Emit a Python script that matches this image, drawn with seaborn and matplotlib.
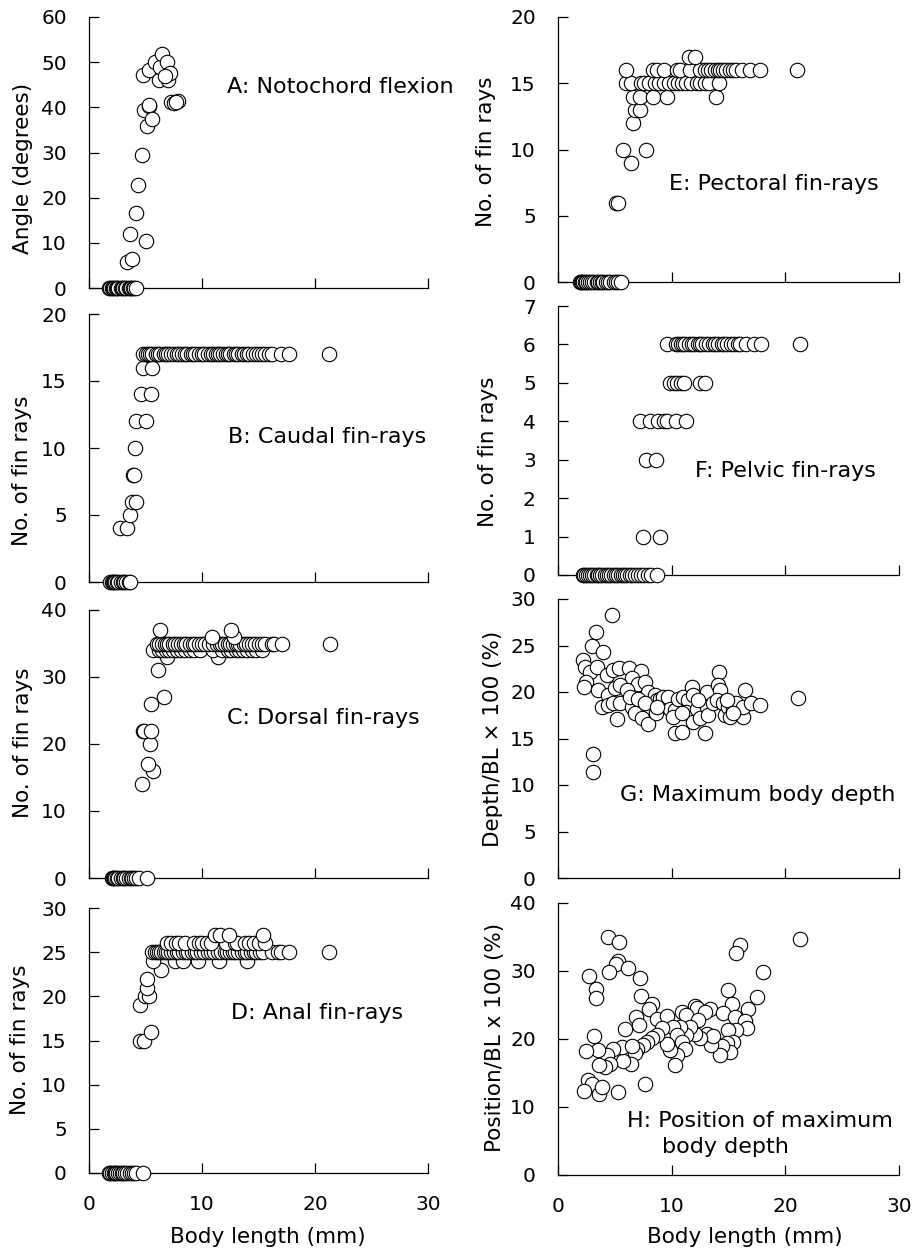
import numpy as np
import pandas as pd
import matplotlib
matplotlib.use("Agg")
import matplotlib.pyplot as plt
import seaborn as sns

# ---------------------------------------------------------------- data
# A: notochord flexion angle (degrees) against body length (mm)
flexion_len = [1.8, 1.9, 2.0, 2.1, 2.2, 2.4, 2.5, 2.6, 2.8, 2.9, 3.0, 3.2, 3.3,
               3.5, 3.6, 3.7, 3.9, 4.0, 4.2,
               3.36, 3.8, 3.6, 4.16, 4.3, 4.66, 5.0, 4.8, 4.87, 5.3, 5.35, 5.1,
               5.6, 5.3, 5.8, 6.2, 6.3, 6.5, 6.9, 7.0, 7.2, 6.7, 7.3, 7.5,
               7.85, 7.7]
flexion_deg = [0, 0, 0, 0, 0, 0, 0, 0, 0, 0, 0, 0, 0, 0, 0, 0, 0, 0, 0,
               5.8, 6.4, 12.0, 16.5, 22.8, 29.5, 10.4, 47.2, 39.4, 40.3, 40.6,
               35.9, 37.4, 48.3, 50.1, 46.1, 49.0, 51.9, 50.1, 46.0, 47.5,
               47.0, 41.1, 41.0, 41.4, 41.2]

# B-F: counts of fin rays, body lengths (mm) grouped by count
caudal_rays = {
    0: [1.9, 2.0, 2.1, 2.2, 2.3, 2.5, 2.6, 2.8, 3.0, 3.1, 3.3, 3.5, 3.6],
    4: [2.7, 3.4],
    5: [3.6],
    6: [3.8, 4.2],
    8: [3.9, 4.0],
    10: [4.1],
    12: [4.2, 5.0],
    14: [4.57, 5.45],
    16: [4.8, 5.6],
    17: [4.8, 5.0, 5.2, 5.4, 5.6, 5.9, 6.1, 6.3, 6.6, 6.8, 7.0, 7.3, 7.5, 7.8,
         8.0, 8.2, 8.5, 8.7, 9.0, 9.2, 9.4, 9.7, 10.0, 10.2, 10.5, 10.8, 11.0,
         11.2, 11.4, 11.6, 11.9, 12.1, 12.3, 12.5, 12.8, 13.0, 13.2, 13.5,
         13.7, 14.0, 14.2, 14.5, 14.8, 15.0, 15.3, 15.6, 15.9, 16.2, 17.0,
         17.7, 21.2],
}

dorsal_rays = {
    0: [2.0, 2.1, 2.2, 2.3, 2.5, 2.6, 2.8, 3.0, 3.1, 3.3, 3.5, 3.7, 3.8, 4.0,
        4.2, 4.4, 5.1],
    14: [4.66],
    16: [5.7],
    17: [5.2],
    20: [5.4],
    22: [4.75, 4.85, 5.45],
    26: [5.45],
    27: [6.6],
    31: [6.1],
    33: [6.9, 11.4],
    34: [5.7, 6.2, 6.5, 6.8, 7.1, 7.4, 7.8, 8.1, 8.5, 8.9, 9.3, 9.8, 11.0,
         11.8, 12.3, 12.6, 13.0, 13.3, 13.6, 14.0, 14.4, 14.8, 15.3],
    35: [6.0, 6.2, 6.5, 6.7, 6.9, 7.1, 7.4, 7.6, 7.9, 8.1, 8.4, 8.6, 8.9, 9.2,
         9.4, 9.7, 10.0, 10.3, 10.6, 11.0, 11.3, 11.6, 11.8, 12.0, 12.3, 12.5,
         12.7, 13.0, 13.2, 13.4, 13.7, 13.9, 14.2, 14.4, 14.7, 15.0, 15.3,
         15.6, 16.2, 16.4, 17.1, 21.3],
    36: [10.9, 12.8],
    37: [6.3, 12.6],
}

anal_rays = {
    0: [1.8, 1.9, 2.0, 2.2, 2.3, 2.4, 2.6, 2.7, 2.9, 3.0, 3.2, 3.4, 3.6, 3.8,
        4.0, 4.2, 4.8],
    15: [4.5, 4.9],
    16: [5.46],
    19: [4.5],
    20: [4.96, 5.3],
    21: [5.1],
    22: [5.1],
    23: [6.37],
    24: [5.7, 7.6, 8.35, 9.67, 11.5, 14.0],
    25: [5.6, 5.8, 6.0, 6.2, 6.4, 6.6, 6.8, 7.0, 7.3, 7.5, 7.8, 8.0, 8.3, 8.6,
         8.8, 9.1, 9.4, 9.6, 9.9, 10.2, 10.5, 10.8, 11.1, 11.4, 11.7, 12.0,
         12.2, 12.5, 12.7, 12.9, 13.2, 13.5, 13.8, 14.0, 14.3, 14.6, 14.8,
         15.1, 15.4, 16.2, 16.7, 17.0, 17.7, 21.2],
    26: [6.9, 7.3, 7.7, 8.0, 8.5, 9.3, 9.7, 10.0, 10.4, 10.8, 12.1, 12.9, 13.1,
         13.8, 14.2, 14.6, 15.0, 15.6],
    27: [11.15, 11.6, 12.4, 15.4],
}

pectoral_rays = {
    0: [1.9, 2.0, 2.1, 2.2, 2.4, 2.5, 2.6, 2.8, 3.0, 3.2, 3.4, 3.5, 3.7, 3.9,
        4.0, 4.2, 4.4, 4.6, 4.9, 5.1, 5.3, 5.5],
    6: [5.1, 5.3],
    9: [6.4],
    10: [5.75, 7.7],
    12: [6.6],
    13: [6.75, 7.2],
    14: [6.6, 7.2, 8.4, 9.6, 13.9],
    15: [6.0, 6.45, 7.3, 7.6, 8.0, 8.5, 8.9, 9.3, 9.76, 10.2, 10.6, 10.9, 11.3,
         11.7, 12.2, 12.5, 12.9, 13.3, 14.2],
    16: [6.0, 8.33, 8.68, 9.32, 10.44, 10.73, 11.6, 12.49, 12.93, 13.2, 13.5,
         13.8, 14.1, 14.25, 14.5, 14.8, 15.1, 15.4, 15.7, 16.15, 16.9, 17.8,
         21.05],
    17: [11.55, 12.05],
}

pelvic_rays = {
    0: [2.2, 2.3, 2.5, 2.6, 2.8, 3.0, 3.2, 3.4, 3.5, 3.7, 3.9, 4.1, 4.3, 4.5,
        4.7, 4.9, 5.1, 5.3, 5.5, 5.7, 5.9, 6.1, 6.3, 6.5, 6.8, 7.0, 7.3, 7.6,
        7.9, 8.2, 8.7],
    1: [7.45, 8.97],
    3: [7.74, 8.6],
    4: [7.2, 8.1, 8.8, 9.3, 9.55, 10.4, 11.25],
    5: [9.85, 10.2, 10.5, 10.8, 11.1, 12.5, 12.9],
    6: [9.56, 10.4, 10.6, 10.8, 11.0, 11.2, 11.5, 11.8, 12.0, 12.3, 12.5, 12.7,
        13.0, 13.3, 13.6, 13.8, 14.1, 14.4, 14.6, 14.9, 15.2, 15.5, 15.8, 16.0,
        16.5, 17.2, 17.9, 21.3],
}

# G: maximum body depth as % of body length
depth_len = [4.72, 3.34, 2.96, 3.99, 2.17, 2.37, 2.81, 3.4, 2.5, 2.29, 3.55,
             4.28, 4.87, 5.4, 6.27, 7.27, 6.48, 7.06, 7.65, 4.43, 5.0, 5.45,
             6.04, 3.84, 4.43, 4.87, 5.45, 5.16, 6.48, 6.77, 7.36, 7.95, 7.95,
             8.53, 8.68, 8.97, 9.26, 9.7, 8.62, 9.85, 10.3, 10.14, 10.58, 10.3,
             10.87, 11.0, 11.46, 11.75, 11.9, 11.3, 11.9, 12.2, 12.5, 12.93,
             13.08, 13.08, 13.2, 13.67, 14.2, 14.1, 14.25, 13.96, 14.54, 14.69,
             14.98, 15.1, 15.4, 15.7, 16.45, 16.24, 16.3, 17.0, 17.77, 21.08,
             3.1, 3.1, 6.3, 7.06, 7.65, 8.68, 10.87, 12.34, 14.83, 15.4]
depth_pct = [28.3, 26.4, 25.0, 24.3, 23.4, 22.7, 22.2, 22.7, 21.1, 20.5, 20.2,
             21.8, 22.4, 22.6, 22.6, 22.3, 21.5, 20.9, 21.1, 19.7, 20.4, 20.8,
             20.2, 18.4, 18.6, 18.8, 18.8, 17.1, 18.4, 17.7, 17.2, 16.6, 20.0,
             19.7, 19.1, 19.3, 19.5, 19.5, 17.7, 18.2, 18.1, 17.3, 19.3, 15.6,
             15.7, 19.5, 19.1, 20.5, 19.7, 17.9, 16.8, 18.2, 17.2, 15.6,
             20.0, 18.4, 17.5, 18.8, 22.2, 20.8, 20.2, 19.1, 18.8, 17.5,
             18.4, 17.3, 18.2, 18.8, 20.2, 17.3, 18.4, 18.8, 18.6, 19.4,
             13.3, 11.4, 19.5, 19.3, 18.8, 18.4, 17.7, 19.1, 19.1, 17.7]

# H: position of maximum body depth as % of body length
position_len = [4.37, 5.4, 21.3, 16.0, 15.7, 5.3, 5.1, 4.5, 2.76, 6.19, 7.21,
                18.0, 3.34, 3.34, 7.3, 14.98, 17.5, 8.24, 8.03, 15.3, 16.74,
                8.68, 9.56, 6.86, 7.15, 5.89, 3.17, 12.05, 12.2, 13.37, 12.93,
                10.87, 11.3, 14.54, 15.6, 16.45, 16.6, 15.7, 14.98, 15.4,
                14.83, 15.1, 14.4, 14.25, 13.5, 13.08, 13.67, 12.5, 12.05,
                12.34, 11.6, 11.3, 10.73, 10.14, 10.44, 10.87, 11.17, 10.44,
                10.3, 9.85, 9.56, 9.11, 8.68, 8.24, 7.8, 7.5, 6.92, 6.77, 6.42,
                5.75, 5.6, 4.81, 4.28, 4.57, 4.13, 3.63, 3.55, 2.46, 2.67, 2.96,
                2.29, 3.63, 3.84, 5.25, 7.65, 6.48]
position_pct = [35.0, 34.3, 34.7, 33.8, 32.6, 31.5, 31.1, 29.8, 29.3, 30.5,
                28.9, 29.9, 27.4, 26.0, 26.3, 27.2, 26.2, 25.2, 24.4, 25.2,
                24.4, 22.9, 23.4, 23.2, 22.1, 21.4, 20.4, 24.9, 24.5, 24.4,
                24.0, 23.9, 23.5, 23.8, 23.2, 22.6, 21.6, 21.3, 21.3, 19.6,
                19.4, 18.1, 18.9, 17.7, 19.1, 20.7, 20.5, 20.1, 20.8, 22.8,
                21.8, 20.6, 21.8, 21.8, 20.6, 19.6, 18.5, 17.7, 16.2, 18.4,
                19.3, 21.6, 20.6, 20.1, 19.6, 19.1, 18.6, 17.9, 16.3, 16.7,
                18.8, 18.6, 17.7, 16.3, 15.9, 16.2, 18.4, 18.2, 14.0, 13.4,
                12.4, 11.9, 12.9, 12.2, 13.4, 18.9]

# axis ticks
x_ticks = [0, 10, 20, 30]
ticks_A = [0, 10, 20, 30, 40, 50, 60]
ticks_B = [0, 5, 10, 15, 20]
ticks_C = [0, 10, 20, 30, 40]
ticks_D = [0, 5, 10, 15, 20, 25, 30]
ticks_E = [0, 5, 10, 15, 20]
ticks_F = [0, 1, 2, 3, 4, 5, 6, 7]
ticks_G = [0, 5, 10, 15, 20, 25, 30]
ticks_H = [0, 10, 20, 30, 40]


def grouped_frame(groups):
    rows = [(length, count) for count, lengths in groups.items() for length in lengths]
    return pd.DataFrame(rows, columns=["length", "value"])


frames = {
    "A": pd.DataFrame({"length": flexion_len, "value": flexion_deg}),
    "B": grouped_frame(caudal_rays),
    "C": grouped_frame(dorsal_rays),
    "D": grouped_frame(anal_rays),
    "E": grouped_frame(pectoral_rays),
    "F": grouped_frame(pelvic_rays),
    "G": pd.DataFrame({"length": depth_len, "value": depth_pct}),
    "H": pd.DataFrame({"length": position_len, "value": position_pct}),
}

# ---------------------------------------------------------------- style
sns.set_theme(style="ticks")
plt.rcParams["font.family"] = ["DejaVu Sans"]
plt.rcParams["axes.linewidth"] = 0.9
plt.rcParams["xtick.major.width"] = 0.9
plt.rcParams["ytick.major.width"] = 0.9

W, H = 916, 1252
fig = plt.figure(figsize=(W / 100, H / 100), dpi=100)
fig.patch.set_facecolor("white")


def rect(left, right, top, bottom):
    return [left / W, 1 - bottom / H, (right - left) / W, (bottom - top) / H]


TICK_FS = 14.5
LABEL_FS = 15.5
CAPTION_FS = 16

# panel: (axes box in px, y ticks, y label, label centre px, caption lines, show x labels)
panels = [
    ("A", rect(89, 428, 17, 288), ticks_A, "Angle (degrees)", (23, 168),
     [("A: Notochord flexion", 227, 87)], False),
    ("B", rect(89, 428, 314, 582), ticks_B, "No. of fin rays", (22, 471),
     [("B: Caudal fin-rays", 228, 437)], False),
    ("C", rect(89, 428, 610, 878), ticks_C, "No. of fin rays", (23, 743),
     [("C: Dorsal fin-rays", 227, 718)], False),
    ("D", rect(89, 428, 908, 1173), ticks_D, "No. of fin rays", (20, 1040),
     [("D: Anal fin-rays", 231, 1013)], True),
    ("E", rect(558, 899, 17, 282), ticks_E, "No. of fin rays", (486, 152),
     [("E: Pectoral fin-rays", 669, 184)], False),
    ("F", rect(558, 899, 306, 575), ticks_F, "No. of fin rays", (488, 452),
     [("F: Pelvic fin-rays", 695, 471)], False),
    ("G", rect(558, 899, 599, 878), ticks_G, "Depth/BL \u00d7 100 (%)", (493, 739),
     [("G: Maximum body depth", 620, 795)], False),
    ("H", rect(558, 899, 903, 1175), ticks_H, "Position/BL x 100 (%)", (495, 1037),
     [("H: Position of maximum", 627, 1121), ("body depth", 662, 1147)], True),
]

for key, box, yticks, ylabel, ylab_pos, captions, show_x in panels:
    ax = fig.add_axes(box)
    ax.set_facecolor("white")
    sns.scatterplot(data=frames[key], x="length", y="value", ax=ax, s=108,
                    color="white", edgecolor="black", linewidth=0.8,
                    legend=False, zorder=3)
    for coll in ax.collections:
        coll.set_clip_on(False)
    ax.set_xlim(0, 30)
    ax.set_ylim(yticks[0], yticks[-1])
    ax.set_xticks(x_ticks)
    ax.set_yticks(yticks)
    sns.despine(ax=ax)
    for s in ("left", "bottom"):
        ax.spines[s].set_color("black")
    ax.tick_params(axis="both", direction="in", length=7, color="black",
                   labelsize=TICK_FS, labelcolor="black", pad=16)
    if show_x:
        ax.set_xticklabels([str(t) for t in x_ticks])
    else:
        ax.set_xticklabels([])
    ax.set_xlabel("")
    ax.set_ylabel("")
    fig.text(ylab_pos[0] / W, 1 - ylab_pos[1] / H, ylabel, rotation=90,
             ha="center", va="center", fontsize=LABEL_FS, color="black")
    for txt, px, py in captions:
        fig.text(px / W, 1 - py / H, txt, ha="left", va="center",
                 fontsize=CAPTION_FS, color="black")

fig.text(267.5 / W, 1 - 1237 / H, "Body length (mm)", ha="center", va="center",
         fontsize=LABEL_FS, color="black")
fig.text(745 / W, 1 - 1237 / H, "Body length (mm)", ha="center", va="center",
         fontsize=LABEL_FS, color="black")

fig.savefig("out.png", dpi=100, facecolor="white")
